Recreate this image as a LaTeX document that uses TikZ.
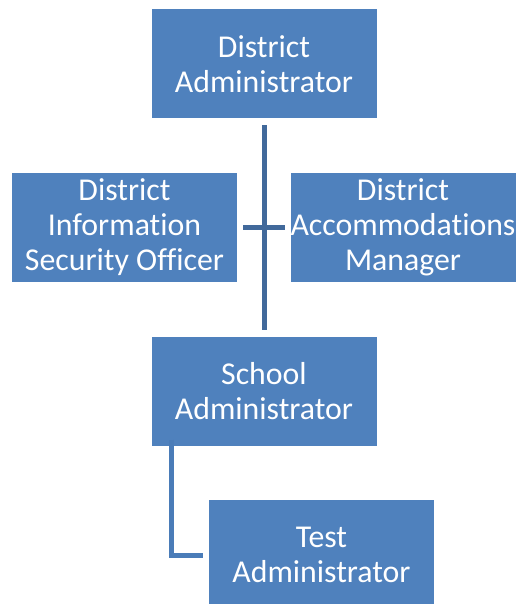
\documentclass[tikz,border=0pt]{standalone}
\usepackage{fontspec}
\setmainfont{Carlito}[Ligatures=NoCommon]
\definecolor{boxblue}{HTML}{4F81BD}
\definecolor{linedark}{HTML}{41699B}
\definecolor{linemid}{HTML}{4A7CB8}
\begin{document}
\begin{tikzpicture}[x=1bp,y=-1bp,
  orgbox/.style={rectangle, fill=boxblue, draw=none, text=white, align=center,
    minimum width=225bp, minimum height=109bp, inner sep=0pt,
    font=\fontsize{31.8bp}{35bp}\selectfont},
  link/.style={line width=5bp, line cap=butt, line join=miter}]
\useasboundingbox (0,0) rectangle (518,604);
\node[orgbox] (da) at (264,64) {District\\Administrator};
\node[orgbox] (diso) at (124.5,227.5) {District\\Information\\Security Officer};
\node[orgbox] (dam) at (403,227.5) {District\\Accommodations\\Manager};
\node[orgbox] (sa) at (264,391.5) {School\\Administrator};
\node[orgbox, minimum height=110bp] (ta) at (321.5,555) {Test\\Administrator};
\draw[link, draw=linedark, shorten <=6.5bp, shorten >=6.5bp] (da.south) -- (sa.north);
\draw[link, draw=linedark, shorten <=6bp, shorten >=5bp] (diso.east) -- (dam.west);
\draw[link, draw=linemid] ([xshift=20bp,yshift=6.5bp]sa.south west) |- ([xshift=-6bp]ta.west);
\end{tikzpicture}
\end{document}
